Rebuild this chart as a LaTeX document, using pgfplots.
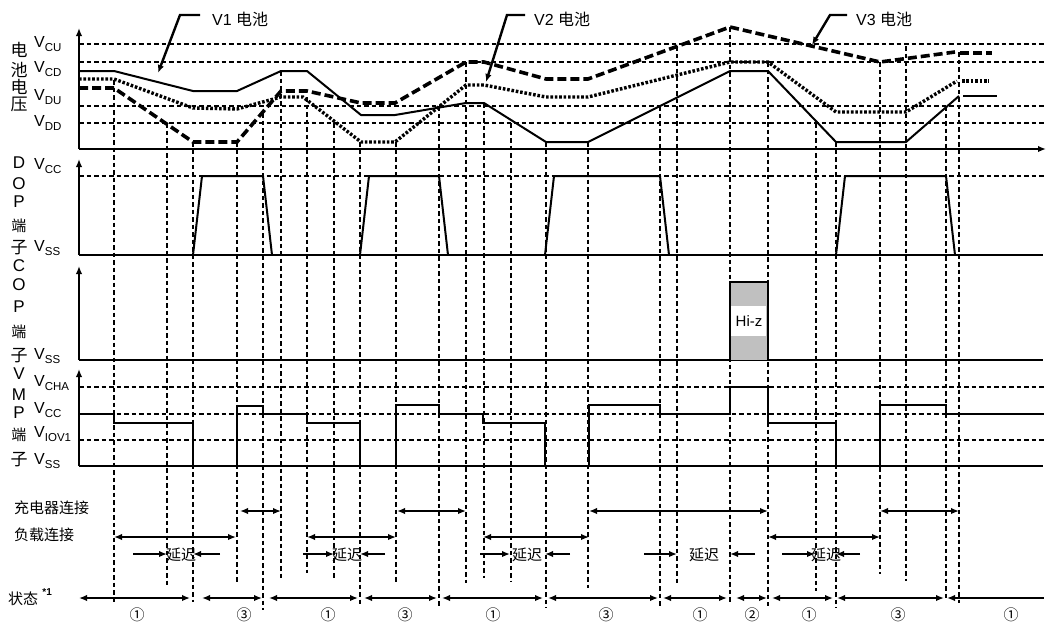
\documentclass[border=0pt]{standalone}
\usepackage{pgfplots}
\pgfplotsset{compat=1.18}
\usetikzlibrary{arrows.meta}
\usepackage{fontspec}
\setmainfont{Liberation Sans}
\newfontfamily\cjk{Noto Sans CJK SC}
\definecolor{hiz}{RGB}{192,192,192}
\newcommand{\V}[1]{{\fontsize{16}{16}\selectfont V}\raisebox{-0.4ex}{\fontsize{11.5}{11.5}\selectfont #1}}

\begin{document}
\begin{tikzpicture}[
    guide/.style={black, line width=1.7pt, dash pattern=on 4.5pt off 3pt},
    sig/.style={black, line width=2pt},
    v1/.style={black, line width=2pt, line join=round},
    v2/.style={black, line width=3.4pt, dash pattern=on 2.6pt off 1.8pt},
    v3/.style={black, line width=3.6pt, dash pattern=on 9pt off 4pt},
    arr/.style={black, line width=2pt, >={Latex[length=8pt,width=6.5pt]}},
    lab/.style={font=\fontsize{15}{15}\selectfont, inner sep=0pt},
    let/.style={font=\fontsize{17}{17}\selectfont, inner sep=0pt},
    num/.style={font=\fontsize{15}{15}\selectfont\cjk, inner sep=0pt},
]
\begin{axis}[
    width=1047pt, height=625pt, scale only axis,
    xmin=0, xmax=1047, ymin=0, ymax=625, y dir=reverse,
    hide axis, clip=false,
]
\addplot[draw=none] coordinates {(0,0) (1047,625)};

% guide lines
\addplot[guide] coordinates {(79,44) (1045,44)};
\addplot[guide] coordinates {(79,62) (1045,62)};
\addplot[guide] coordinates {(79,106) (1045,106)};
\addplot[guide] coordinates {(79,123) (1045,123)};
\addplot[guide] coordinates {(79,176) (1045,176)};
\addplot[guide] coordinates {(79,387) (1045,387)};
\addplot[guide] coordinates {(79,414) (1045,414)};
\addplot[guide] coordinates {(79,440) (1045,440)};

% vertical event lines
\addplot[guide] coordinates {(114,80) (114,603)};
\addplot[guide] coordinates {(167,123) (167,587)};
\addplot[guide] coordinates {(193,142) (193,602)};
\addplot[guide] coordinates {(237,142) (237,583)};
\addplot[guide] coordinates {(263,113) (263,610)};
\addplot[guide] coordinates {(281,71) (281,580)};
\addplot[guide] coordinates {(307,97) (307,573)};
\addplot[guide] coordinates {(334,123) (334,578)};
\addplot[guide] coordinates {(360,142) (360,607)};
\addplot[guide] coordinates {(396,142) (396,583)};
\addplot[guide] coordinates {(439,106) (439,607)};
\addplot[guide] coordinates {(466,62) (466,583)};
\addplot[guide] coordinates {(484,103) (484,578)};
\addplot[guide] coordinates {(511,123) (511,581)};
\addplot[guide] coordinates {(546,142) (546,608)};
\addplot[guide] coordinates {(588,142) (588,588)};
\addplot[guide] coordinates {(660,106) (660,606)};
\addplot[guide] coordinates {(677,46) (677,584)};
\addplot[guide] coordinates {(730,27) (730,604)};
\addplot[guide] coordinates {(768,62) (768,606)};
\addplot[guide] coordinates {(816,123) (816,591)};
\addplot[guide] coordinates {(836,142) (836,608)};
\addplot[guide] coordinates {(880,62) (880,574)};
\addplot[guide] coordinates {(906,46) (906,581)};
\addplot[guide] coordinates {(946,106) (946,600)};
\addplot[guide] coordinates {(959,52) (959,603)};

% axes
\addplot[arr, ->] coordinates {(79,149) (79,28)};
\addplot[arr, ->] coordinates {(79,149) (1046,149)};
\addplot[arr, ->] coordinates {(79,255) (79,159)};
\addplot[sig] coordinates {(79,255) (1043,255)};
\addplot[arr, ->] coordinates {(79,360) (79,266)};
\addplot[sig] coordinates {(79,360) (1043,360)};
\addplot[arr, ->] coordinates {(79,466) (79,369)};
\addplot[sig] coordinates {(79,466) (1043,466)};

% battery voltages
\addplot[v1] coordinates {(79,71) (114,71) (193,91) (237,91) (281,71) (307,71) (361,115) (395,115) (466,103) (484,103) (546,142) (588,142) (730,71) (768,71) (836,142) (906,142) (959,96)};
\addplot[v1] coordinates {(963,96) (997,96)};
\addplot[v2] coordinates {(79,79) (114,79) (193,108) (237,109) (281,97) (303,97) (361,142) (395,142) (466,85) (484,85) (546,97) (588,97) (730,62) (768,62) (836,112) (906,112) (957,81)};
\addplot[v2] coordinates {(962,81) (989,81)};
\addplot[v3] coordinates {(79,88) (114,88) (193,142) (237,142) (281,91) (307,91) (361,103) (395,103) (466,62) (484,62) (546,79) (588,79) (730,27) (880,62) (955,52)};
\addplot[v3] coordinates {(960,53) (992,53)};

% DOP
\addplot[sig] coordinates {(193,255) (202,176) (263,176) (272,255)};
\addplot[sig] coordinates {(360,255) (369,176) (439,176) (448,255)};
\addplot[sig] coordinates {(545,255) (554,176) (660,176) (669,255)};
\addplot[sig] coordinates {(836,255) (845,176) (946,176) (955,255)};

% COP Hi-z
\addplot[fill=hiz, draw=none] coordinates {(730,282) (768,282) (768,360) (730,360)};
\addplot[fill=white, draw=none] coordinates {(731,306) (766,306) (766,336) (731,336)};
\addplot[sig] coordinates {(730,360) (730,282) (768,282) (768,360)};
\node[lab] at (axis cs:749,321) {Hi-z};

% VMP
\addplot[sig] coordinates {(79,414) (114,414) (114,423) (193,423) (193,466) (237,466) (237,406) (263,406) (263,414) (307,414) (307,423) (360,423) (360,466) (396,466) (396,405) (439,405) (439,414) (483,414) (483,423) (545,423) (545,466) (589,466) (589,405) (660,405) (660,414) (730,414) (730,387) (768,387) (768,423) (836,423) (836,466) (880,466) (880,405) (946,405) (946,414) (1040,414)};

% battery labels with leaders
\addplot[arr, line width=2.4pt, ->] coordinates {(200,15) (180,15) (158,73)};
\addplot[arr, line width=2.4pt, ->] coordinates {(525,15) (507,15) (486,82)};
\addplot[arr, line width=2.4pt, ->] coordinates {(847,15) (830,15) (812,45)};
\node[lab, font=\fontsize{16}{16}\selectfont, anchor=west] at (axis cs:212,19) {V1 {\cjk 电池}};
\node[lab, font=\fontsize{16}{16}\selectfont, anchor=west] at (axis cs:534,19) {V2 {\cjk 电池}};
\node[lab, font=\fontsize{16}{16}\selectfont, anchor=west] at (axis cs:856,19) {V3 {\cjk 电池}};

% left labels
\node[let] at (axis cs:19,50) {\cjk 电};
\node[let] at (axis cs:19,70) {\cjk 池};
\node[let] at (axis cs:19,87) {\cjk 电};
\node[let] at (axis cs:19,104) {\cjk 压};
\node[lab, anchor=west] at (axis cs:34,44) {\V{CU}};
\node[lab, anchor=west] at (axis cs:34,69) {\V{CD}};
\node[lab, anchor=west] at (axis cs:34,97) {\V{DU}};
\node[lab, anchor=west] at (axis cs:34,123) {\V{DD}};

\node[let] at (axis cs:19,163) {D};
\node[let] at (axis cs:19,184) {O};
\node[let] at (axis cs:19,202) {P};
\node[lab] at (axis cs:19,226) {\cjk 端};
\node[let] at (axis cs:19,248) {\cjk 子};
\node[lab, anchor=west] at (axis cs:34,166) {\V{CC}};
\node[lab, anchor=west] at (axis cs:34,248) {\V{SS}};

\node[let] at (axis cs:19,266) {C};
\node[let] at (axis cs:19,285) {O};
\node[let] at (axis cs:19,307) {P};
\node[lab] at (axis cs:19,332) {\cjk 端};
\node[let] at (axis cs:19,356) {\cjk 子};
\node[lab, anchor=west] at (axis cs:34,356) {\V{SS}};

\node[let] at (axis cs:19,374) {V};
\node[let] at (axis cs:19,395) {M};
\node[let] at (axis cs:19,413) {P};
\node[lab] at (axis cs:19,435) {\cjk 端};
\node[let] at (axis cs:19,460) {\cjk 子};
\node[lab, anchor=west] at (axis cs:34,383) {\V{CHA}};
\node[lab, anchor=west] at (axis cs:34,410) {\V{CC}};
\node[lab, anchor=west] at (axis cs:34,434) {\V{IOV1}};
\node[lab, anchor=west] at (axis cs:34,461) {\V{SS}};

% bottom rows
\node[lab, anchor=west] at (axis cs:14,508) {\cjk 充电器连接};
\node[lab, anchor=west] at (axis cs:14,535) {\cjk 负载连接};
\node[lab, anchor=west] at (axis cs:8,597) {{\cjk 状态} \raisebox{1.2ex}{\fontsize{10}{10}\selectfont\bfseries *1}};

\addplot[arr, <->] coordinates {(240,511) (281,511)};
\addplot[arr, <->] coordinates {(397,511) (466,511)};
\addplot[arr, <->] coordinates {(589,511) (768,511)};
\addplot[arr, <->] coordinates {(880,511) (959,511)};

\addplot[arr, <->] coordinates {(114,537) (236,537)};
\addplot[arr, <->] coordinates {(307,537) (396,537)};
\addplot[arr, <->] coordinates {(483,537) (589,537)};
\addplot[arr, <->] coordinates {(768,537) (880,537)};

\addplot[arr, ->] coordinates {(133,554) (167,554)};
\addplot[arr, ->] coordinates {(220,554) (193,554)};
\addplot[arr, ->] coordinates {(303,554) (334,554)};
\addplot[arr, ->] coordinates {(385,554) (360,554)};
\addplot[arr, ->] coordinates {(480,554) (510,554)};
\addplot[arr, ->] coordinates {(570,554) (545,554)};
\addplot[arr, ->] coordinates {(644,554) (677,554)};
\addplot[arr, ->] coordinates {(755,554) (730,554)};
\addplot[arr, ->] coordinates {(782,554) (815,554)};
\addplot[arr, ->] coordinates {(860,554) (836,554)};
\node[lab] at (axis cs:181,555) {\cjk 延迟};
\node[lab] at (axis cs:347,555) {\cjk 延迟};
\node[lab] at (axis cs:527,555) {\cjk 延迟};
\node[lab] at (axis cs:704,555) {\cjk 延迟};
\node[lab] at (axis cs:826,555) {\cjk 延迟};

\addplot[arr, <->] coordinates {(79,598) (190,598)};
\addplot[arr, <->] coordinates {(202,598) (262,598)};
\addplot[arr, <->] coordinates {(269,598) (358,598)};
\addplot[arr, <->] coordinates {(364,598) (437,598)};
\addplot[arr, <->] coordinates {(442,598) (543,598)};
\addplot[arr, <->] coordinates {(548,598) (658,598)};
\addplot[arr, <->] coordinates {(663,598) (727,598)};
\addplot[arr, <->] coordinates {(736,598) (767,598)};
\addplot[arr, <->] coordinates {(772,598) (833,598)};
\addplot[arr, <->] coordinates {(837,598) (944,598)};
\addplot[arr, <-] coordinates {(947,598) (1044,598)};

\node[num] at (axis cs:137,615) {①};
\node[num] at (axis cs:244,615) {③};
\node[num] at (axis cs:328,615) {①};
\node[num] at (axis cs:405,615) {③};
\node[num] at (axis cs:493,615) {①};
\node[num] at (axis cs:606,615) {③};
\node[num] at (axis cs:700,615) {①};
\node[num] at (axis cs:752,615) {②};
\node[num] at (axis cs:809,615) {①};
\node[num] at (axis cs:898,615) {③};
\node[num] at (axis cs:1011,615) {①};
\end{axis}
\end{tikzpicture}
\end{document}
